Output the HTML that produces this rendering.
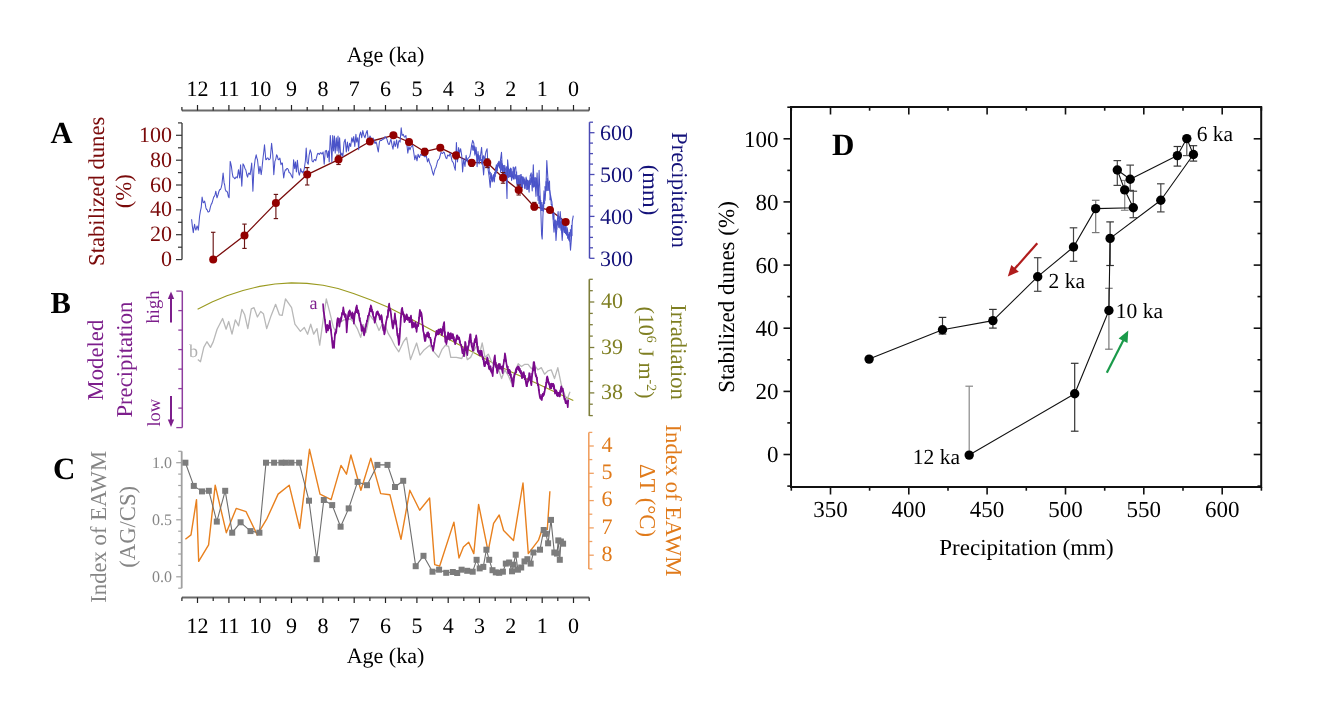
<!DOCTYPE html><html><head><meta charset="utf-8"><style>html,body{margin:0;padding:0;background:#fff;overflow:hidden}svg{display:block;will-change:transform}text{-webkit-font-smoothing:antialiased}</style></head><body>
<svg width="1336" height="725" viewBox="0 0 1336 725" font-family="'Liberation Serif', serif" text-rendering="geometricPrecision">
<rect width="1336" height="725" fill="#fff"/>
<line x1="181.9" y1="110.5" x2="589.2" y2="110.5" stroke="#6a6a6a" stroke-width="1.9"/>
<line x1="589.2" y1="110.5" x2="589.2" y2="107" stroke="#222" stroke-width="1.2"/>
<line x1="573.5" y1="110.5" x2="573.5" y2="105" stroke="#222" stroke-width="1.2"/>
<line x1="557.8" y1="110.5" x2="557.8" y2="107" stroke="#222" stroke-width="1.2"/>
<line x1="542.2" y1="110.5" x2="542.2" y2="105" stroke="#222" stroke-width="1.2"/>
<line x1="526.5" y1="110.5" x2="526.5" y2="107" stroke="#222" stroke-width="1.2"/>
<line x1="510.8" y1="110.5" x2="510.8" y2="105" stroke="#222" stroke-width="1.2"/>
<line x1="495.2" y1="110.5" x2="495.2" y2="107" stroke="#222" stroke-width="1.2"/>
<line x1="479.5" y1="110.5" x2="479.5" y2="105" stroke="#222" stroke-width="1.2"/>
<line x1="463.8" y1="110.5" x2="463.8" y2="107" stroke="#222" stroke-width="1.2"/>
<line x1="448.2" y1="110.5" x2="448.2" y2="105" stroke="#222" stroke-width="1.2"/>
<line x1="432.5" y1="110.5" x2="432.5" y2="107" stroke="#222" stroke-width="1.2"/>
<line x1="416.9" y1="110.5" x2="416.9" y2="105" stroke="#222" stroke-width="1.2"/>
<line x1="401.2" y1="110.5" x2="401.2" y2="107" stroke="#222" stroke-width="1.2"/>
<line x1="385.5" y1="110.5" x2="385.5" y2="105" stroke="#222" stroke-width="1.2"/>
<line x1="369.9" y1="110.5" x2="369.9" y2="107" stroke="#222" stroke-width="1.2"/>
<line x1="354.2" y1="110.5" x2="354.2" y2="105" stroke="#222" stroke-width="1.2"/>
<line x1="338.5" y1="110.5" x2="338.5" y2="107" stroke="#222" stroke-width="1.2"/>
<line x1="322.9" y1="110.5" x2="322.9" y2="105" stroke="#222" stroke-width="1.2"/>
<line x1="307.2" y1="110.5" x2="307.2" y2="107" stroke="#222" stroke-width="1.2"/>
<line x1="291.5" y1="110.5" x2="291.5" y2="105" stroke="#222" stroke-width="1.2"/>
<line x1="275.9" y1="110.5" x2="275.9" y2="107" stroke="#222" stroke-width="1.2"/>
<line x1="260.2" y1="110.5" x2="260.2" y2="105" stroke="#222" stroke-width="1.2"/>
<line x1="244.5" y1="110.5" x2="244.5" y2="107" stroke="#222" stroke-width="1.2"/>
<line x1="228.9" y1="110.5" x2="228.9" y2="105" stroke="#222" stroke-width="1.2"/>
<line x1="213.2" y1="110.5" x2="213.2" y2="107" stroke="#222" stroke-width="1.2"/>
<line x1="197.5" y1="110.5" x2="197.5" y2="105" stroke="#222" stroke-width="1.2"/>
<line x1="181.9" y1="110.5" x2="181.9" y2="107" stroke="#222" stroke-width="1.2"/>
<text x="573.5" y="95.5" font-size="22" fill="#000" text-anchor="middle" font-weight="normal" >0</text>
<text x="542.2" y="95.5" font-size="22" fill="#000" text-anchor="middle" font-weight="normal" >1</text>
<text x="510.8" y="95.5" font-size="22" fill="#000" text-anchor="middle" font-weight="normal" >2</text>
<text x="479.5" y="95.5" font-size="22" fill="#000" text-anchor="middle" font-weight="normal" >3</text>
<text x="448.2" y="95.5" font-size="22" fill="#000" text-anchor="middle" font-weight="normal" >4</text>
<text x="416.9" y="95.5" font-size="22" fill="#000" text-anchor="middle" font-weight="normal" >5</text>
<text x="385.5" y="95.5" font-size="22" fill="#000" text-anchor="middle" font-weight="normal" >6</text>
<text x="354.2" y="95.5" font-size="22" fill="#000" text-anchor="middle" font-weight="normal" >7</text>
<text x="322.9" y="95.5" font-size="22" fill="#000" text-anchor="middle" font-weight="normal" >8</text>
<text x="291.5" y="95.5" font-size="22" fill="#000" text-anchor="middle" font-weight="normal" >9</text>
<text x="260.2" y="95.5" font-size="22" fill="#000" text-anchor="middle" font-weight="normal" >10</text>
<text x="228.9" y="95.5" font-size="22" fill="#000" text-anchor="middle" font-weight="normal" >11</text>
<text x="197.5" y="95.5" font-size="22" fill="#000" text-anchor="middle" font-weight="normal" >12</text>
<text x="385.5" y="62.2" font-size="22" fill="#000" text-anchor="middle" font-weight="normal" >Age (ka)</text>
<line x1="181.9" y1="597.5" x2="589.2" y2="597.5" stroke="#6a6a6a" stroke-width="1.9"/>
<line x1="589.2" y1="597.5" x2="589.2" y2="601" stroke="#222" stroke-width="1.2"/>
<line x1="573.5" y1="597.5" x2="573.5" y2="603" stroke="#222" stroke-width="1.2"/>
<line x1="557.8" y1="597.5" x2="557.8" y2="601" stroke="#222" stroke-width="1.2"/>
<line x1="542.2" y1="597.5" x2="542.2" y2="603" stroke="#222" stroke-width="1.2"/>
<line x1="526.5" y1="597.5" x2="526.5" y2="601" stroke="#222" stroke-width="1.2"/>
<line x1="510.8" y1="597.5" x2="510.8" y2="603" stroke="#222" stroke-width="1.2"/>
<line x1="495.2" y1="597.5" x2="495.2" y2="601" stroke="#222" stroke-width="1.2"/>
<line x1="479.5" y1="597.5" x2="479.5" y2="603" stroke="#222" stroke-width="1.2"/>
<line x1="463.8" y1="597.5" x2="463.8" y2="601" stroke="#222" stroke-width="1.2"/>
<line x1="448.2" y1="597.5" x2="448.2" y2="603" stroke="#222" stroke-width="1.2"/>
<line x1="432.5" y1="597.5" x2="432.5" y2="601" stroke="#222" stroke-width="1.2"/>
<line x1="416.9" y1="597.5" x2="416.9" y2="603" stroke="#222" stroke-width="1.2"/>
<line x1="401.2" y1="597.5" x2="401.2" y2="601" stroke="#222" stroke-width="1.2"/>
<line x1="385.5" y1="597.5" x2="385.5" y2="603" stroke="#222" stroke-width="1.2"/>
<line x1="369.9" y1="597.5" x2="369.9" y2="601" stroke="#222" stroke-width="1.2"/>
<line x1="354.2" y1="597.5" x2="354.2" y2="603" stroke="#222" stroke-width="1.2"/>
<line x1="338.5" y1="597.5" x2="338.5" y2="601" stroke="#222" stroke-width="1.2"/>
<line x1="322.9" y1="597.5" x2="322.9" y2="603" stroke="#222" stroke-width="1.2"/>
<line x1="307.2" y1="597.5" x2="307.2" y2="601" stroke="#222" stroke-width="1.2"/>
<line x1="291.5" y1="597.5" x2="291.5" y2="603" stroke="#222" stroke-width="1.2"/>
<line x1="275.9" y1="597.5" x2="275.9" y2="601" stroke="#222" stroke-width="1.2"/>
<line x1="260.2" y1="597.5" x2="260.2" y2="603" stroke="#222" stroke-width="1.2"/>
<line x1="244.5" y1="597.5" x2="244.5" y2="601" stroke="#222" stroke-width="1.2"/>
<line x1="228.9" y1="597.5" x2="228.9" y2="603" stroke="#222" stroke-width="1.2"/>
<line x1="213.2" y1="597.5" x2="213.2" y2="601" stroke="#222" stroke-width="1.2"/>
<line x1="197.5" y1="597.5" x2="197.5" y2="603" stroke="#222" stroke-width="1.2"/>
<line x1="181.9" y1="597.5" x2="181.9" y2="601" stroke="#222" stroke-width="1.2"/>
<text x="573.5" y="633" font-size="22" fill="#000" text-anchor="middle" font-weight="normal" >0</text>
<text x="542.2" y="633" font-size="22" fill="#000" text-anchor="middle" font-weight="normal" >1</text>
<text x="510.8" y="633" font-size="22" fill="#000" text-anchor="middle" font-weight="normal" >2</text>
<text x="479.5" y="633" font-size="22" fill="#000" text-anchor="middle" font-weight="normal" >3</text>
<text x="448.2" y="633" font-size="22" fill="#000" text-anchor="middle" font-weight="normal" >4</text>
<text x="416.9" y="633" font-size="22" fill="#000" text-anchor="middle" font-weight="normal" >5</text>
<text x="385.5" y="633" font-size="22" fill="#000" text-anchor="middle" font-weight="normal" >6</text>
<text x="354.2" y="633" font-size="22" fill="#000" text-anchor="middle" font-weight="normal" >7</text>
<text x="322.9" y="633" font-size="22" fill="#000" text-anchor="middle" font-weight="normal" >8</text>
<text x="291.5" y="633" font-size="22" fill="#000" text-anchor="middle" font-weight="normal" >9</text>
<text x="260.2" y="633" font-size="22" fill="#000" text-anchor="middle" font-weight="normal" >10</text>
<text x="228.9" y="633" font-size="22" fill="#000" text-anchor="middle" font-weight="normal" >11</text>
<text x="197.5" y="633" font-size="22" fill="#000" text-anchor="middle" font-weight="normal" >12</text>
<text x="385.5" y="662.5" font-size="22" fill="#000" text-anchor="middle" font-weight="normal" >Age (ka)</text>
<line x1="182" y1="122.9" x2="182" y2="259.6" stroke="#333" stroke-width="1.3"/>
<line x1="182" y1="259.6" x2="176" y2="259.6" stroke="#333" stroke-width="1.2"/>
<line x1="182" y1="247.2" x2="178" y2="247.2" stroke="#333" stroke-width="1.2"/>
<line x1="182" y1="234.7" x2="176" y2="234.7" stroke="#333" stroke-width="1.2"/>
<line x1="182" y1="222.3" x2="178" y2="222.3" stroke="#333" stroke-width="1.2"/>
<line x1="182" y1="209.9" x2="176" y2="209.9" stroke="#333" stroke-width="1.2"/>
<line x1="182" y1="197.5" x2="178" y2="197.5" stroke="#333" stroke-width="1.2"/>
<line x1="182" y1="185" x2="176" y2="185" stroke="#333" stroke-width="1.2"/>
<line x1="182" y1="172.6" x2="178" y2="172.6" stroke="#333" stroke-width="1.2"/>
<line x1="182" y1="160.2" x2="176" y2="160.2" stroke="#333" stroke-width="1.2"/>
<line x1="182" y1="147.8" x2="178" y2="147.8" stroke="#333" stroke-width="1.2"/>
<line x1="182" y1="135.3" x2="176" y2="135.3" stroke="#333" stroke-width="1.2"/>
<line x1="182" y1="122.9" x2="178" y2="122.9" stroke="#333" stroke-width="1.2"/>
<text x="172" y="266.1" font-size="22" fill="#7a0a0a" text-anchor="end" font-weight="normal" >0</text>
<text x="172" y="241.2" font-size="22" fill="#7a0a0a" text-anchor="end" font-weight="normal" >20</text>
<text x="172" y="216.4" font-size="22" fill="#7a0a0a" text-anchor="end" font-weight="normal" >40</text>
<text x="172" y="191.5" font-size="22" fill="#7a0a0a" text-anchor="end" font-weight="normal" >60</text>
<text x="172" y="166.7" font-size="22" fill="#7a0a0a" text-anchor="end" font-weight="normal" >80</text>
<text x="172" y="141.8" font-size="22" fill="#7a0a0a" text-anchor="end" font-weight="normal" >100</text>
<text x="50.6" y="142.6" font-size="30.5" fill="#000" text-anchor="start" font-weight="bold" >A</text>
<text transform="translate(103.5 191.3) rotate(-90)" font-size="22.7" fill="#7a0a0a" text-anchor="middle" >Stabilized dunes</text>
<text transform="translate(131 191.3) rotate(-90)" font-size="22.7" fill="#7a0a0a" text-anchor="middle" >(%)</text>
<line x1="589.5" y1="122.2" x2="589.5" y2="258.3" stroke="#4a4ab4" stroke-width="1.5"/>
<line x1="589.5" y1="258.3" x2="594.5" y2="258.3" stroke="#4a4ab4" stroke-width="1.3"/>
<line x1="589.5" y1="247.8" x2="593" y2="247.8" stroke="#4a4ab4" stroke-width="1.3"/>
<line x1="589.5" y1="237.4" x2="593" y2="237.4" stroke="#4a4ab4" stroke-width="1.3"/>
<line x1="589.5" y1="226.9" x2="593" y2="226.9" stroke="#4a4ab4" stroke-width="1.3"/>
<line x1="589.5" y1="216.4" x2="594.5" y2="216.4" stroke="#4a4ab4" stroke-width="1.3"/>
<line x1="589.5" y1="206" x2="593" y2="206" stroke="#4a4ab4" stroke-width="1.3"/>
<line x1="589.5" y1="195.5" x2="593" y2="195.5" stroke="#4a4ab4" stroke-width="1.3"/>
<line x1="589.5" y1="185" x2="593" y2="185" stroke="#4a4ab4" stroke-width="1.3"/>
<line x1="589.5" y1="174.5" x2="594.5" y2="174.5" stroke="#4a4ab4" stroke-width="1.3"/>
<line x1="589.5" y1="164.1" x2="593" y2="164.1" stroke="#4a4ab4" stroke-width="1.3"/>
<line x1="589.5" y1="153.6" x2="593" y2="153.6" stroke="#4a4ab4" stroke-width="1.3"/>
<line x1="589.5" y1="143.1" x2="593" y2="143.1" stroke="#4a4ab4" stroke-width="1.3"/>
<line x1="589.5" y1="132.7" x2="594.5" y2="132.7" stroke="#4a4ab4" stroke-width="1.3"/>
<line x1="589.5" y1="122.2" x2="593" y2="122.2" stroke="#4a4ab4" stroke-width="1.3"/>
<text x="600" y="266" font-size="22" fill="#14127a" text-anchor="start" font-weight="normal" >300</text>
<text x="600" y="224.1" font-size="22" fill="#14127a" text-anchor="start" font-weight="normal" >400</text>
<text x="600" y="182.2" font-size="22" fill="#14127a" text-anchor="start" font-weight="normal" >500</text>
<text x="600" y="140.4" font-size="22" fill="#14127a" text-anchor="start" font-weight="normal" >600</text>
<text transform="translate(672.2 190) rotate(90)" font-size="22.7" fill="#14127a" text-anchor="middle" >Precipitation</text>
<text transform="translate(643 190) rotate(90)" font-size="22.7" fill="#14127a" text-anchor="middle" >(mm)</text>
<polyline points="213.2,259.6 244.5,235.4 275.9,203.1 307.2,174.6 338.5,159.6 369.9,141.5 393.4,135.3 409,142 424.7,151.7 440.3,147.8 456,155.3 471.7,162.7 487.3,162.7 503,177.8 518.7,189.9 534.3,206.7 550,210.1 565.7,222.1" fill="none" stroke="#7a0c0c" stroke-width="1.3" stroke-linejoin="round" />
<polyline points="191.6,219.3 192.4,226.6 193.3,232.6 193.9,228 194.6,224.3 195.2,228.1 195.9,230.1 197.1,226 197.7,227.6 198.3,230.1 198.9,223.9 199.6,216 200.4,211.2 201.2,207.7 202.1,197 203.2,202.8 203.9,202.4 204.6,201.1 205.2,203.6 205.9,207.7 206.6,209.5 207.2,209.8 207.9,211.9 208.7,211.9 209.5,211.1 210.3,207.3 211.2,204.4 212,203.1 212.8,200.3 213.7,197.2 214.5,196.2 215.2,194.2 215.8,191.2 217,197.8 218.1,194.5 218.9,191.5 219.8,189.5 220.4,189.6 221.1,187.9 221.9,184.6 223.1,173 224.1,182.9 224.7,185 225.3,189.5 226.1,191.2 226.9,191.2 227.6,192.7 228.4,196.8 229.1,197.8 230.2,161.4 230.8,163.5 231.4,166.4 232.2,172.8 233,177.1 233.8,177.3 234.7,178.8 235.3,178.4 236,177.1 236.7,177 237.3,177.9 238.5,169.7 239.7,177.9 240.6,164.7 241.2,176.1 241.8,186.2 243,163.9 244,165.5 245.1,168.8 245.7,169.5 246.3,172.2 246.9,175.2 247.6,177.1 248.2,174.2 248.9,173 250.1,174.6 250.9,169.7 251.7,163.1 252.3,176.5 252.9,191.2 253.9,169.7 255.1,159.7 256.2,154.8 256.9,158.1 257.5,159.7 258.2,166.3 258.9,173.8 260,166.4 261.2,174.6 261.9,169.3 262.5,163.1 263.2,156.5 263.8,151.8 264.5,144.8 265.1,151.5 265.8,159.7 266.5,159.5 267.1,158.1 268,158 268.8,159.7 269.6,159.6 270.3,158.1 271,150 271.6,143.2 272.8,154.8 273.8,174.6 274.9,161.4 275.8,159.1 276.6,154.8 277.4,156.3 278.2,159.7 279,159.5 279.9,158.1 281,164.7 281.7,163.1 282.4,163.1 283,171.3 283.7,177.9 284.5,172.7 285.4,169.7 286,170.1 286.7,168.6 287.5,168.5 288.3,169.7 289.1,172.5 290,173 290.8,174.2 291.6,176.3 292.7,177.9 293.6,159.7 294.7,168.6 295.5,161.9 296.4,171.9 297.4,160.3 298.5,171.9 299.3,175.2 300,172.6 300.7,168.6 301.6,171.9 302.2,171.5 302.9,173 303.6,171.3 304.3,168.6 305.4,160.8 306.2,148.1 307.1,161.9 308.2,164.2 309.1,155.3 310.2,149.8 311.3,153.1 312,160.8 313.1,161.9 314.2,159.7 314.9,159.5 315.7,160.8 316.4,158.2 317.2,154.8 317.9,153.3 318.7,153.7 319.4,154.4 320.1,153.1 320.8,152.6 321.4,153.7 322.2,153.9 323.1,152 324.2,164.2 325.3,150.9 326.4,150.4 327.5,157.5 328.4,150.9 329.2,161.9 330.3,135.5 331.1,145.4 331.9,161.9 332.7,135.5 333.6,150.9 334.4,136 335.2,153.1 336.3,137.7 337.1,150.9 338,136 338.9,153.1 339.6,137.7 340.7,156.4 341.8,153.1 342.9,156.4 343.5,148.6 344.1,142.1 345.2,139.3 346.3,152 347.4,142.1 348.5,150.9 349.6,143.2 350.7,146.5 351.8,137.7 352.9,142.1 353.7,136.6 354.8,146.5 355.9,134.3 356.7,142.1 357.8,137.7 358.7,149.8 359.5,135.5 360.6,132.1 361.7,137.7 362.8,130.5 363.9,135.5 365,137.7 366.1,133.2 367.2,130.5 368.3,139.9 369.1,138.9 370,136 370.8,137.6 371.5,141 372.2,140.3 373,138 373.7,139.3 374.4,142.1 375.1,143.5 375.9,141.7 376.6,143.2 377.5,148.4 378.3,152 379.4,142.1 380.2,140.3 381,140.4 381.8,140.4 382.5,138.7 383.3,139.3 384.1,138.9 385,136.6 386.1,138.2 386.9,139 387.7,142.1 388.5,144.3 389.4,144.3 390.2,141.2 391,139.3 392.1,145.4 393,149.2 394.1,141 395.2,146.5 395.9,143.9 396.6,139.9 397.7,148.1 398.8,141 399.5,140.6 400.1,142.1 401.2,127.7 402.1,135.5 403.2,134.3 404.3,137.1 405.1,136.7 405.9,135.5 407,145.4 407.8,153.1 408.9,146.5 410,149.8 410.8,147.4 411.5,146.5 412.6,145.4 413.7,152 414.8,159.7 415.9,155.3 417,160.8 418.1,154.2 418.8,156.4 419.5,157.5 420.1,155.4 420.8,154.2 421.6,155.2 422.5,155.3 423.4,154.8 424.2,156.4 424.9,156.9 425.7,155.8 426.4,156.4 427.5,161.9 428.6,158.6 429.4,162.1 430.2,164.2 431,165.9 431.9,169.7 432.7,172.9 433.5,175.2 434.4,171.2 435.2,168.6 436,167.2 436.8,164.2 437.6,160.8 438.5,159.7 439.4,158.5 440.2,155.3 441,152.4 441.8,153.1 442.6,153.5 443.5,152 444.3,152.5 445.1,155.3 446,158.1 446.8,158.6 447.6,155.1 448.4,155.3 449.2,156.1 450.1,153.1 450.8,155 451.5,158.6 452.1,161.1 452.8,161.9 453.5,163.2 454.2,166.4 455.3,170.2 456.4,142.6 457.5,161.9 458.6,147.6 459.5,153.1 460.6,148.7 461.7,155.3 462.6,171.9 463.7,158.6 464.4,163.4 465,166.4 466.1,155.3 467.2,161.9 468,158.4 468.9,157.5 469.7,156.7 470.5,153.1 471.6,145.4 472.7,140.4 473.8,143.2 474.9,155.3 475.5,150.4 476.1,147.4 477.1,166.7 478,151.6 479.1,164 479.8,160.5 480.5,155.7 481.6,147.4 482.6,162.6 483.6,175 484.7,159.8 485.4,154.5 486,151.6 487.1,148.8 488.1,169.5 489.1,176.4 490.2,187.4 491.3,173.6 492.2,181.9 493.2,175 494.3,181.9 495.4,170.9 496.4,164.7 497.3,168.1 498.4,162.6 499,166.5 499.6,168.1 500.5,159.8 501.5,152.2 502.6,173.6 503.7,181.9 504.7,165.3 505.6,169.5 506.4,181.9 507,198.4 507.6,159.8 508.4,168.1 509.5,173.6 510.6,168.1 511.6,180.5 512.5,175 513.6,179.1 514.7,168.1 515.7,166.7 516.7,181.9 517.8,186 518.9,179.1 519.8,188.8 520.8,177.8 521.9,176.4 523,183.3 524,177.8 525,188.8 526.1,177.1 527.1,189.5 528,182.6 529.1,192.2 530.2,175.7 531.2,172.9 532.2,190.9 533.3,164.7 534.1,186.7 534.9,181.2 536,196.4 537.1,172.9 538.1,200.5 539.1,170.2 539.9,190.9 540.9,212.9 541.6,235 542.2,239.1 542.9,217.1 544,190.9 545,200.5 546,186.7 546.8,160.5 547.8,177.1 548.7,186.7 549.8,190.9 550.9,197.8 551.9,201.9 552.9,215.7 554,232.2 555.1,219.8 556,240.5 557,225.3 558.1,211.6 559.2,226.7 560.2,211.6 561.1,222.6 562.2,240.5 563.3,224 564.3,232.2 565.3,226.7 566.4,235 567.5,229.5 568.4,237.8 569.4,233.6 570.5,250.2 571.5,237.8 572.3,221.2 573.3,215.7" fill="none" stroke="#4a52c8" stroke-width="1.05" stroke-linejoin="round" />
<polyline points="472,150.2 472.6,145.4 473.1,150.5 473.7,145.6 474.2,150.6 474.8,146.5 475.3,154 475.9,149.8 476.4,156.5 477,153.9 477.5,157.2 478.1,154.5 478.6,158.7 479.2,155.4 479.7,161 480.3,157 480.8,160.8 481.4,159.2 481.9,164.4 482.5,156.6 483,162.6 483.6,155.5 484.1,158.7 484.7,156.7 485.2,162.7 485.8,160.6 486.3,166.7 486.9,161.9 487.4,166.3 488,162.9 488.5,168.9 489.1,166.1 489.6,174.5 490.2,171.9 490.7,178.7 491.3,176.1 491.8,180.3 492.4,177.8 492.9,181.3 493.5,174.5 494,177.9 494.6,172.3 495.1,176.7 495.7,167.7 496.2,173.5 496.8,166.4 497.3,170.9 497.9,162.9 498.4,165.3 499,160.9 499.5,167 500.1,162.1 500.6,172.4 501.2,160.2 501.7,170.5 502.3,163.6 502.8,171.4 503.4,165.2 503.9,178.5 504.5,169.3 505,175.5 505.6,172.3 506.1,179.2 506.7,166.5 507.2,176.7 507.8,168.2 508.3,177.8 508.9,168.8 509.4,177.2 510,169.4 510.5,177.1 511.1,168.5 511.6,176.2 512.2,171.3 512.7,176.5 513.3,166.8 513.8,177.8 514.4,170.8 514.9,179.3 515.5,174.5 516,178.7 516.6,171.7 517.1,184.1 517.7,175.3 518.2,184.8 518.8,175.2 519.3,187.7 519.9,174.9 520.4,185.2 521,174.1 521.5,187.7 522,176.8 522.6,188 523.1,176.7 523.7,184.3 524.2,178.9 524.8,188.5 525.3,180.7 525.9,185.7 526.4,178.4 527,189.9 527.5,179.8 528.1,189.1 528.6,180.6 529.2,185.9 529.7,179.9 530.3,184.9 530.8,178.2 531.4,182.5 531.9,177.1 532.5,186.8 533,174.3 533.6,187.4 534.1,177.6 534.7,185.8 535.2,177.3 535.8,187.5 536.3,177.8 536.9,186.8 537.4,184.4 538,195.8 538.5,188 539.1,204.1 539.6,195.8 540.2,206.9 540.7,200.1 541.3,211 541.8,202.1 542.4,211.1 542.9,204.5 543.5,211.4 544,200.9 544.6,203.9 545.1,186.3 545.7,191.4 546.2,181.3 546.8,190.8 547.3,178.1 547.9,190.8 548.4,182.4 549,190.6 549.5,180.8 550.1,200.2 550.6,195.5 551.2,204.8 551.7,204 552.3,211.1 552.8,208.9 553.4,219.6 553.9,212.7 554.5,227.5 555,220.2 555.6,228.6 556.1,221.1 556.7,229.6 557.2,220.5 557.8,225.3 558.3,220.2 558.9,227.8 559.4,217.5 560,228.4 560.5,221.4 561.1,230.5 561.6,218.8 562.2,233.2 562.7,220.3 563.3,229.9 563.8,225.4 564.4,232.9 564.9,224.8 565.5,234 566,225.1 566.6,235.3 567.1,227.5 567.7,238.6 568.2,234.1 568.8,240.4 569.3,232 569.9,241.6 570.4,229.4 571,236.6 571.5,225 572.1,235.9" fill="none" stroke="#4a52c8" stroke-width="0.9" stroke-linejoin="round" />
<line x1="213.2" y1="259.6" x2="213.2" y2="232.3" stroke="#6b1515" stroke-width="1.15"/>
<line x1="211" y1="259.6" x2="215.4" y2="259.6" stroke="#6b1515" stroke-width="1.15"/>
<line x1="211" y1="232.3" x2="215.4" y2="232.3" stroke="#6b1515" stroke-width="1.15"/>
<line x1="244.5" y1="248.4" x2="244.5" y2="224.1" stroke="#6b1515" stroke-width="1.15"/>
<line x1="242.3" y1="248.4" x2="246.7" y2="248.4" stroke="#6b1515" stroke-width="1.15"/>
<line x1="242.3" y1="224.1" x2="246.7" y2="224.1" stroke="#6b1515" stroke-width="1.15"/>
<line x1="275.9" y1="218.6" x2="275.9" y2="194.4" stroke="#6b1515" stroke-width="1.15"/>
<line x1="273.7" y1="218.6" x2="278.1" y2="218.6" stroke="#6b1515" stroke-width="1.15"/>
<line x1="273.7" y1="194.4" x2="278.1" y2="194.4" stroke="#6b1515" stroke-width="1.15"/>
<line x1="307.2" y1="185" x2="307.2" y2="167.6" stroke="#6b1515" stroke-width="1.15"/>
<line x1="305" y1="185" x2="309.4" y2="185" stroke="#6b1515" stroke-width="1.15"/>
<line x1="305" y1="167.6" x2="309.4" y2="167.6" stroke="#6b1515" stroke-width="1.15"/>
<line x1="338.5" y1="164.5" x2="338.5" y2="155.2" stroke="#6b1515" stroke-width="1.15"/>
<line x1="336.3" y1="164.5" x2="340.7" y2="164.5" stroke="#6b1515" stroke-width="1.15"/>
<line x1="336.3" y1="155.2" x2="340.7" y2="155.2" stroke="#6b1515" stroke-width="1.15"/>
<line x1="369.9" y1="144" x2="369.9" y2="139.1" stroke="#6b1515" stroke-width="1.15"/>
<line x1="367.7" y1="144" x2="372.1" y2="144" stroke="#6b1515" stroke-width="1.15"/>
<line x1="367.7" y1="139.1" x2="372.1" y2="139.1" stroke="#6b1515" stroke-width="1.15"/>
<line x1="393.4" y1="136.6" x2="393.4" y2="133.5" stroke="#6b1515" stroke-width="1.15"/>
<line x1="391.2" y1="136.6" x2="395.6" y2="136.6" stroke="#6b1515" stroke-width="1.15"/>
<line x1="391.2" y1="133.5" x2="395.6" y2="133.5" stroke="#6b1515" stroke-width="1.15"/>
<line x1="409" y1="144.7" x2="409" y2="139.7" stroke="#6b1515" stroke-width="1.15"/>
<line x1="406.8" y1="144.7" x2="411.2" y2="144.7" stroke="#6b1515" stroke-width="1.15"/>
<line x1="406.8" y1="139.7" x2="411.2" y2="139.7" stroke="#6b1515" stroke-width="1.15"/>
<line x1="424.7" y1="155.2" x2="424.7" y2="148.4" stroke="#6b1515" stroke-width="1.15"/>
<line x1="422.5" y1="155.2" x2="426.9" y2="155.2" stroke="#6b1515" stroke-width="1.15"/>
<line x1="422.5" y1="148.4" x2="426.9" y2="148.4" stroke="#6b1515" stroke-width="1.15"/>
<line x1="440.3" y1="150.2" x2="440.3" y2="145.3" stroke="#6b1515" stroke-width="1.15"/>
<line x1="438.1" y1="150.2" x2="442.5" y2="150.2" stroke="#6b1515" stroke-width="1.15"/>
<line x1="438.1" y1="145.3" x2="442.5" y2="145.3" stroke="#6b1515" stroke-width="1.15"/>
<line x1="456" y1="158.9" x2="456" y2="152.7" stroke="#6b1515" stroke-width="1.15"/>
<line x1="453.8" y1="158.9" x2="458.2" y2="158.9" stroke="#6b1515" stroke-width="1.15"/>
<line x1="453.8" y1="152.7" x2="458.2" y2="152.7" stroke="#6b1515" stroke-width="1.15"/>
<line x1="471.7" y1="166.4" x2="471.7" y2="160.2" stroke="#6b1515" stroke-width="1.15"/>
<line x1="469.5" y1="166.4" x2="473.9" y2="166.4" stroke="#6b1515" stroke-width="1.15"/>
<line x1="469.5" y1="160.2" x2="473.9" y2="160.2" stroke="#6b1515" stroke-width="1.15"/>
<line x1="487.3" y1="167.6" x2="487.3" y2="158.9" stroke="#6b1515" stroke-width="1.15"/>
<line x1="485.1" y1="167.6" x2="489.5" y2="167.6" stroke="#6b1515" stroke-width="1.15"/>
<line x1="485.1" y1="158.9" x2="489.5" y2="158.9" stroke="#6b1515" stroke-width="1.15"/>
<line x1="503" y1="183.2" x2="503" y2="172.6" stroke="#6b1515" stroke-width="1.15"/>
<line x1="500.8" y1="183.2" x2="505.2" y2="183.2" stroke="#6b1515" stroke-width="1.15"/>
<line x1="500.8" y1="172.6" x2="505.2" y2="172.6" stroke="#6b1515" stroke-width="1.15"/>
<line x1="518.7" y1="195" x2="518.7" y2="185" stroke="#6b1515" stroke-width="1.15"/>
<line x1="516.5" y1="195" x2="520.9" y2="195" stroke="#6b1515" stroke-width="1.15"/>
<line x1="516.5" y1="185" x2="520.9" y2="185" stroke="#6b1515" stroke-width="1.15"/>
<line x1="534.3" y1="209.9" x2="534.3" y2="202.4" stroke="#6b1515" stroke-width="1.15"/>
<line x1="532.1" y1="209.9" x2="536.5" y2="209.9" stroke="#6b1515" stroke-width="1.15"/>
<line x1="532.1" y1="202.4" x2="536.5" y2="202.4" stroke="#6b1515" stroke-width="1.15"/>
<line x1="550" y1="212.4" x2="550" y2="208" stroke="#6b1515" stroke-width="1.15"/>
<line x1="547.8" y1="212.4" x2="552.2" y2="212.4" stroke="#6b1515" stroke-width="1.15"/>
<line x1="547.8" y1="208" x2="552.2" y2="208" stroke="#6b1515" stroke-width="1.15"/>
<line x1="565.7" y1="224.2" x2="565.7" y2="220.5" stroke="#6b1515" stroke-width="1.15"/>
<line x1="563.5" y1="224.2" x2="567.9" y2="224.2" stroke="#6b1515" stroke-width="1.15"/>
<line x1="563.5" y1="220.5" x2="567.9" y2="220.5" stroke="#6b1515" stroke-width="1.15"/>
<circle cx="213.2" cy="259.6" r="4" fill="#930000"/>
<circle cx="244.5" cy="235.4" r="4" fill="#930000"/>
<circle cx="275.9" cy="203.1" r="4" fill="#930000"/>
<circle cx="307.2" cy="174.6" r="4" fill="#930000"/>
<circle cx="338.5" cy="159.6" r="4" fill="#930000"/>
<circle cx="369.9" cy="141.5" r="4" fill="#930000"/>
<circle cx="393.4" cy="135.3" r="4" fill="#930000"/>
<circle cx="409" cy="142" r="4" fill="#930000"/>
<circle cx="424.7" cy="151.7" r="4" fill="#930000"/>
<circle cx="440.3" cy="147.8" r="4" fill="#930000"/>
<circle cx="456" cy="155.3" r="4" fill="#930000"/>
<circle cx="471.7" cy="162.7" r="4" fill="#930000"/>
<circle cx="487.3" cy="162.7" r="4" fill="#930000"/>
<circle cx="503" cy="177.8" r="4" fill="#930000"/>
<circle cx="518.7" cy="189.9" r="4" fill="#930000"/>
<circle cx="534.3" cy="206.7" r="4" fill="#930000"/>
<circle cx="550" cy="210.1" r="4" fill="#930000"/>
<circle cx="565.7" cy="222.1" r="4" fill="#930000"/>
<line x1="182.3" y1="291.1" x2="182.3" y2="427.6" stroke="#8e3c9e" stroke-width="1.5"/>
<line x1="182.3" y1="291.1" x2="176.3" y2="291.1" stroke="#8e3c9e" stroke-width="1.3"/>
<line x1="182.3" y1="310.6" x2="178.3" y2="310.6" stroke="#8e3c9e" stroke-width="1.3"/>
<line x1="182.3" y1="330.1" x2="178.3" y2="330.1" stroke="#8e3c9e" stroke-width="1.3"/>
<line x1="182.3" y1="349.6" x2="178.3" y2="349.6" stroke="#8e3c9e" stroke-width="1.3"/>
<line x1="182.3" y1="369.1" x2="178.3" y2="369.1" stroke="#8e3c9e" stroke-width="1.3"/>
<line x1="182.3" y1="388.6" x2="178.3" y2="388.6" stroke="#8e3c9e" stroke-width="1.3"/>
<line x1="182.3" y1="408.1" x2="178.3" y2="408.1" stroke="#8e3c9e" stroke-width="1.3"/>
<line x1="182.3" y1="427.6" x2="176.3" y2="427.6" stroke="#8e3c9e" stroke-width="1.3"/>
<text x="50.5" y="313.4" font-size="30.5" fill="#000" text-anchor="start" font-weight="bold" >B</text>
<text transform="translate(103.3 360.1) rotate(-90)" font-size="22.7" fill="#7d1f8c" text-anchor="middle" >Modeled</text>
<text transform="translate(131.8 359.6) rotate(-90)" font-size="22.7" fill="#7d1f8c" text-anchor="middle" >Precipitation</text>
<text transform="translate(159.4 307) rotate(-90)" font-size="18.5" fill="#7d1f8c" text-anchor="middle" >high</text>
<text transform="translate(159.8 412.7) rotate(-90)" font-size="18.5" fill="#7d1f8c" text-anchor="middle" >low</text>
<line x1="171" y1="298" x2="171" y2="322.5" stroke="#7d1f8c" stroke-width="2"/>
<path d="M171,291.5 L167.8,299 L174.2,299 Z" fill="#7d1f8c"/>
<line x1="171" y1="396" x2="171" y2="420" stroke="#7d1f8c" stroke-width="2"/>
<path d="M171,427 L167.8,419.5 L174.2,419.5 Z" fill="#7d1f8c"/>
<line x1="589.3" y1="279.3" x2="589.3" y2="416" stroke="#7d7d3a" stroke-width="1.6"/>
<line x1="589.3" y1="279.3" x2="592.8" y2="279.3" stroke="#7d7d3a" stroke-width="1.3"/>
<line x1="589.3" y1="290.7" x2="592.8" y2="290.7" stroke="#7d7d3a" stroke-width="1.3"/>
<line x1="589.3" y1="302" x2="594.3" y2="302" stroke="#7d7d3a" stroke-width="1.3"/>
<line x1="589.3" y1="313.4" x2="592.8" y2="313.4" stroke="#7d7d3a" stroke-width="1.3"/>
<line x1="589.3" y1="324.7" x2="592.8" y2="324.7" stroke="#7d7d3a" stroke-width="1.3"/>
<line x1="589.3" y1="336.1" x2="592.8" y2="336.1" stroke="#7d7d3a" stroke-width="1.3"/>
<line x1="589.3" y1="347.5" x2="594.3" y2="347.5" stroke="#7d7d3a" stroke-width="1.3"/>
<line x1="589.3" y1="358.8" x2="592.8" y2="358.8" stroke="#7d7d3a" stroke-width="1.3"/>
<line x1="589.3" y1="370.2" x2="592.8" y2="370.2" stroke="#7d7d3a" stroke-width="1.3"/>
<line x1="589.3" y1="381.5" x2="592.8" y2="381.5" stroke="#7d7d3a" stroke-width="1.3"/>
<line x1="589.3" y1="392.9" x2="594.3" y2="392.9" stroke="#7d7d3a" stroke-width="1.3"/>
<line x1="589.3" y1="404.2" x2="592.8" y2="404.2" stroke="#7d7d3a" stroke-width="1.3"/>
<line x1="589.3" y1="415.6" x2="592.8" y2="415.6" stroke="#7d7d3a" stroke-width="1.3"/>
<text x="601" y="308.2" font-size="22" fill="#7f7f22" text-anchor="start" font-weight="normal" >40</text>
<text x="601" y="353.6" font-size="22" fill="#7f7f22" text-anchor="start" font-weight="normal" >39</text>
<text x="601" y="399" font-size="22" fill="#7f7f22" text-anchor="start" font-weight="normal" >38</text>
<text transform="translate(671 352) rotate(90)" font-size="22.7" fill="#7f7f22" text-anchor="middle" >Irradiation</text>
<text transform="translate(639 352.5) rotate(90)" font-size="22" fill="#7f7f22" text-anchor="middle">(10<tspan font-size="14" dy="-8">6</tspan><tspan dy="8"> J m</tspan><tspan font-size="14" dy="-8">-2</tspan><tspan dy="8">)</tspan></text>
<polyline points="197.6,309.2 212,302 226.9,295.8 243,290.5 259.7,286.4 275,284 291.4,282.9 307,283.4 323.1,285.2 338,288.5 353.5,293.5 371,300 388.7,307.5 400,313.2 420,323.8 440,334.5 460,345.2 480,356 499.3,366.2 518,375 537,383.6 555,392 573.3,400.6" fill="none" stroke="#9a9a20" stroke-width="1.1" stroke-linejoin="round" />
<polyline points="197.8,359.5 200.5,361.7 203.8,347.4 206.9,341.7 210.5,347.4 213.2,341.9 217.1,329.2 222.6,318.5 226.1,329.2 228.7,321.5 232,334.2 235.3,319.8 238.6,325.9 241.9,309.3 244.7,314.8 247.8,328.6 251.3,308.8 254,307.7 257.4,317 260.7,311.5 263.4,313.7 266.7,328.6 271.2,315.4 275.6,304.3 279.4,314.8 282.2,315.4 285.5,298.8 291.6,307.7 294.9,324.2 300.4,331.4 304.3,327.5 307.6,334.2 310.7,324.2 313.7,334.2 317,328.6 319.7,345.2 323,320.9 326.3,298.8 329.7,312.1 333.2,326.7 335.1,330.5 338,325.7 340.9,321.9 343.8,319.9 346.7,319.9 350.5,319 353.4,321.9 357.3,328.6 360.7,337.3 363.6,324.7 366,332.5 369.8,315.1 372.7,319 375.6,321.9 379,330.5 382.4,323.8 385.3,325.7 388.2,333.4 391.1,338.3 394.9,346 398.8,351.8 403.3,341.9 406.6,337.5 410.5,359.6 416.6,343 419.9,355.2 424.3,349.7 429.8,345.3 433.1,350.8 438.6,357.4 441.9,349.7 445.3,345.3 448.6,346.4 450.8,357.4 456.3,357.4 461.8,358.5 465.1,350.8 467.3,359.6 470.6,357.4 473.9,350.8 477.3,344.2 479.5,354.1 482.2,343 485,357.4 488.3,354.1 491.6,361.8 494.9,366.2 498.3,368.7 501.6,378.6 504.9,369.8 508.2,375.3 511.5,383 514.8,372 518.2,363.7 521.5,366.5 524.8,364.3 528.1,364.3 531.4,368.7 534.7,365.4 538,369.8 541.3,367.6 544.6,374.2 547.9,370.9 551.2,369.8 554.5,378.6 557.8,367.6 561.2,384.1 564.5,394 566.7,400.6 570,391.8" fill="none" stroke="#b8b8b8" stroke-width="1.3" stroke-linejoin="round" />
<text x="189" y="356.5" font-size="18" fill="#b0b0b0" text-anchor="start" font-weight="normal" >b</text>
<polyline points="323,303.5 323.5,311.2 324.3,315.1 325,320.9 325.6,326.7 326.4,332.5 327.2,324.7 328,330.5 328.8,326.7 329.3,325.3 329.8,320.9 330.5,326.7 331.2,332.5 332,340.2 332.7,347.9 333.4,344.1 334.1,347.9 334.9,333.4 335.4,331.7 335.9,333.4 336.4,331.3 336.8,324.7 337.3,319.8 337.8,318 338.3,320.1 338.8,319 339.4,326.7 339.9,322.6 340.4,321.9 340.9,321 341.4,318 341.9,314 342.3,313.2 342.8,312.1 343.3,307.4 344,312.2 344.9,317 345.4,314 345.9,315.1 346.7,332.5 347.1,327.1 347.6,319.9 348.1,314.8 348.6,312.2 349.1,312.1 349.6,310.3 350.5,314.1 351,314 351.5,318 352.3,312.2 353.2,316.1 353.9,323.8 354.6,315.1 355.4,312.2 356.1,307.4 356.8,305.4 357.5,312.2 358.3,310.3 359.2,317 359.7,320.8 360.2,320.9 360.7,323 361.2,326.7 361.6,331 362.1,330.5 362.6,326.7 363.1,327.6 363.6,333.3 364.1,335.4 365,331.5 365.5,327.3 366,326.7 366.9,320.9 367.4,319.9 367.9,317 368.5,315.3 369.1,315.1 369.8,309.3 370.3,309 370.8,305.4 371.3,306.5 371.8,309.3 372.7,313.2 373.2,316.1 373.7,317 374.2,318.8 374.7,322.8 375.1,321.7 375.6,319 376.1,314.1 376.6,312.2 377.1,313.2 377.6,311.2 378.5,315.1 379,313.9 379.5,317 380,319.6 380.5,319 381.4,315.1 381.9,317.2 382.4,322.8 382.9,328.2 383.4,330.5 383.9,330.6 384.3,334.4 384.8,333 385.3,328.6 385.8,323.6 386.3,320.9 387.2,317 387.7,317.5 388.2,313.2 388.7,306 389.2,303.5 389.6,308.5 390.1,309.3 390.6,310.3 391.1,315.1 392,322.8 392.5,326.9 393,328.6 393.5,325.1 394,323.8 394.9,313.2 395.4,318.3 395.9,320.9 396.4,324.9 396.9,330.5 397.4,335.4 397.8,336.3 398.3,339.3 398.8,345 399.3,342.8 399.8,336.3 400.7,319 401.1,314.3 401.6,309.6 402.2,307.7 402.8,312.8 403.3,313.2 403.9,315.5 404.4,322.1 404.9,321.2 405.5,318.8 406.1,315.5 406.6,314.3 407.1,319.3 407.7,319.9 408.2,317.3 408.8,317.7 409.4,322.3 409.9,322.1 410.4,317.4 411,315.5 411.6,322.4 412.1,327.6 412.6,323.6 413.2,323.2 413.8,326.9 414.3,326.5 414.9,323.1 415.5,322.1 416.1,327.9 416.6,332 417.1,327.4 417.7,325.4 418.2,326.1 418.8,322.1 419.4,314 419.9,309.9 420.4,311.9 421,312.1 421.6,313.8 422.1,317.7 422.6,325.2 423.2,330.9 423.8,333.4 424.3,337.5 424.9,341.2 425.4,340.8 425.9,337 426.5,335.3 427.1,335.9 427.6,333.1 428.1,332.2 428.7,334.2 429.2,336.9 429.8,337.5 430.4,337.8 430.9,341.9 431.4,345.1 432,346.4 432.6,346.8 433.1,350.8 433.6,348.4 434.2,344.2 434.8,339.4 435.3,337.5 435.9,335.3 436.4,330.9 436.9,331.4 437.5,334.2 438.1,334.4 438.6,329.8 439.1,329.4 439.7,333.1 440.2,332.1 440.8,328.7 441.4,329.8 441.9,335.3 442.4,333.1 443,328.7 443.6,324 444.2,322.1 444.8,334.2 445.3,341.9 445.9,341.3 446.4,344.2 446.9,341.2 447.5,336.4 448.1,332.4 448.6,333.1 449.1,337.5 449.7,339.7 450.2,335.2 450.8,333.1 451.4,337.9 451.9,338.6 452.4,335.1 453,334.2 453.6,338.7 454.1,340.8 454.6,341.7 455.2,344.2 455.8,342.3 456.3,338.6 456.9,335.3 457.4,335.3 457.9,338.1 458.5,338.6 459.1,337.4 459.6,339.7 460.1,343.3 460.7,344.2 461.2,344.9 461.8,348.6 462.4,353.1 462.9,353 463.4,353.1 464,356.3 464.6,350.8 465.1,341.9 465.6,343.1 466.2,348.6 466.8,352.9 467.3,355.2 467.9,349.8 468.4,346.4 468.9,344.7 469.5,338.6 470.1,334.3 470.6,334.2 471.1,341.4 471.7,346.4 472.2,347.6 472.8,350.8 473.4,350.6 473.9,346.4 474.5,340.8 475.1,339.7 475.6,338.6 476.2,335.3 476.8,339.1 477.3,347.5 477.9,351.9 478.4,351.9 478.9,351.8 479.5,355.2 480.1,355.5 480.6,353 481.1,351 481.7,350.8 482.2,354.9 482.8,357.4 483.4,358.4 483.9,364 484.4,366.2 485,366.2 485.6,362.1 486.1,361.8 486.6,360.8 487.2,357.4 487.8,358.6 488.3,364 488.9,368.5 489.4,369.5 489.9,366.6 490.5,366.2 491.1,370.5 491.6,372.8 492.1,372.6 492.7,376.2 493.2,369.8 493.8,361.8 494.4,357.4 494.9,355.2 495.5,363.1 496.1,367.6 496.6,368.2 497.2,373.1 497.8,371 498.3,365.4 498.9,363.7 499.4,364.3 499.9,368.8 500.5,368.7 501.1,366.5 501.6,366.5 502.1,370.5 502.7,373.1 503.2,366.4 503.8,362.1 504.4,359.1 504.9,353.2 505.4,355.7 506,359.8 506.6,364.7 507.1,367.6 507.6,369 508.2,373.1 508.8,373.1 509.3,369.8 509.9,370.5 510.4,373.1 510.9,377.2 511.5,378.6 512,380.2 512.6,386.3 513.2,386.5 513.7,381.9 514.2,375.7 514.8,373.1 515.3,373.9 515.9,370.9 516.5,368.1 517,368.7 517.6,368.6 518.2,366.5 518.8,366.8 519.3,368.7 519.8,370.6 520.4,370.9 521,370.9 521.5,375.3 522,378.3 522.6,377.5 523.2,372.4 523.7,372 524.2,375 524.8,376.4 525.3,377.9 525.9,383 526.5,386.2 527,386.3 527.5,382.2 528.1,381.9 528.7,378.8 529.2,373.1 529.8,373.5 530.3,378.6 530.8,382.7 531.4,385.2 532,377 532.5,372 533,369 533.6,362.1 534.2,362.1 534.7,366.5 535.2,373.4 535.8,376.4 536.3,375.6 536.9,378.6 537.5,383.4 538,384.1 538.5,385.7 539.1,391.8 539.7,396.4 540.2,398.4 540.8,397.1 541.3,399.5 541.8,400.1 542.4,396.2 543,393.5 543.5,395.1 544,394.9 544.6,391.8 545.2,387.6 545.7,387.4 546.2,384.6 546.8,377.5 547.3,376.4 547.9,378.6 548.5,383.1 549,384.1 549.5,384.9 550.1,388.5 550.7,388 551.2,384.1 551.8,383.5 552.3,386.3 552.8,386.1 553.4,384.1 554,385.1 554.5,389.6 555,393.6 555.6,392.9 556.2,390.2 556.7,391.8 557.2,395.9 557.8,396.2 558.3,393.2 558.9,392.9 559.5,396.5 560,396.2 560.6,389.6 561.2,386.3 561.8,388.9 562.3,388.5 562.8,388.6 563.4,392.9 564,397.1 564.5,399.5 565,399.2 565.6,402.8 566.2,403 566.7,401.7 567.2,402.8 567.8,407.3 568.3,399.5" fill="none" stroke="#7a0a8c" stroke-width="1.6" stroke-linejoin="round" />
<polyline points="323.5,311.1 324,312.7 324.5,319 325,318.9 325.5,324.5 326,324.5 326.5,328.6 327,325.9 327.5,329.4 328,324.9 328.5,328.5 329,325.1 329.5,328.7 330,325.6 330.5,330.8 331,328.8 331.5,336.3 332,337.8 332.5,344.5 333,341.2 333.5,343.8 334,340.1 334.5,341.3 335,334 335.5,335.2 336,328.9 336.5,329.1 337,322.8 337.5,326.2 338,319.4 338.5,323.2 339,320.3 339.5,324.1 340,318.1 340.5,321.4 341,316.8 341.5,319.8 342,312.4 342.5,314.6 343,310.1 343.5,315.2 344,311.7 344.5,315.8 345,315.1 345.5,319.8 346,318.9 346.5,322.1 347,318.4 347.5,321.8 348,315.7 348.5,319.3 349,311 349.5,316.6 350,310.9 350.5,315.2 351,312.9 351.5,316.9 352,313.7 352.5,319.3 353,316.1 353.5,317.5 354,313 354.5,317.4 355,311.6 355.5,313.1 356,309.1 356.5,313 357,307.4 357.5,313.5 358,310.6 358.5,315.5 359,313.2 359.5,319.6 360,317.6 360.5,324.9 361,323.9 361.5,327.1 362,324.6 362.5,330.4 363,329.5 363.5,332.6 364,328.5 364.5,333.4 365,328.1 365.5,330.4 366,323.6 366.5,325.2 367,320 367.5,321.8 368,315.2 368.5,316.1 369,312.4 369.5,312.6 370,307.9 370.5,311.9 371,306 371.5,312.1 372,309.3 372.5,314.9 373,311.4 373.5,318 374,317.1 374.5,319.9 375,316.7 375.5,318.6 376,315.7 376.5,316.1 377,311.4 377.5,314.5 378,311.7 378.5,315.8 379,314.5 379.5,319.2 380,315.4 380.5,318.6 381,316.8 381.5,322.5 382,319.9 382.5,326.8 383,324.6 383.5,330.3 384,326.9 384.5,331.2 385,325.8 385.5,328.2 386,323 386.5,322.1 387,315.7 387.5,317.8 388,309.6 388.5,313.5 389,308.1 389.5,311.1 390,307.8 390.5,313.4 391,313.6 391.5,319.6 392,319.5 392.5,324.3 393,321.6 393.5,325.2 394,320 394.5,322.7 395,318.5 395.5,324.4 396,320.6 396.5,327 397,328.1 397.5,336.9 398,335.1 398.5,338.4 399,333.3 399.5,334.9 400,327.9 400.5,327.6 401,318.3 401.5,317.2 402,312.4 402.5,314.5 403,311.5 403.5,316.7 404,313.9 404.5,318.4 405,316.7 405.5,320.5 406,316.4 406.5,319.8 407,314.5 407.5,318.9 408,317 408.5,319.8 409,317.5 409.5,320.3 410,317.3 410.5,320.9 411,320.7 411.5,323.5 412,319.6 412.5,324.7 413,321.7 413.5,327.3 414,322.8 414.5,327.2 415,324.4 415.5,328.6 416,323.7 416.5,328.4 417,324.8 417.5,326.8 418,322 418.5,322.3 419,316.9 419.5,318.5 420,312 420.5,316.6 421,312.6 421.5,319.4 422,318.4 422.5,325 423,324.7 423.5,332.7 424,332.7 424.5,337.8 425,334.3 425.5,338.6 426,334.5 426.5,337.1 427,332.4 427.5,337.1 428,333.1 428.5,338.2 429,333.2 429.5,338 430,337.4 430.5,342.4 431,339.2 431.5,345.4 432,345 432.5,348 433,345.8 433.5,347.5 434,342.4 434.5,344 435,338.5 435.5,337.9 436,332.9 436.5,335.9 437,331 437.5,334 438,329.6 438.5,335 439,328.9 439.5,333.6 440,329.7 440.5,332.9 441,331.1 441.5,334.2 442,329.8 442.5,331.7 443,326.3 443.5,331.2 444,329.2 444.5,334.2 445,331.6 445.5,339 446,335.7 446.5,340.3 447,336.6 447.5,339.9 448,335.8 448.5,339.4 449,333.4 449.5,338.6 450,333.3 450.5,339.5 451,334.9 451.5,338.1 452,333.3 452.5,338.5 453,336.8 453.5,340.9 454,336.6 454.5,342.9 455,339.6 455.5,342.1 456,338.6 456.5,340.6 457,335.3 457.5,339.6 458,336.3 458.5,339.6 459,337.5 459.5,343 460,340.6 460.5,344.8 461,344.2 461.5,348.7 462,346.3 462.5,352.2 463,349.2 463.5,352.1 464,347.8 464.5,351.2 465,346.8 465.5,351 466,348 466.5,349.7 467,346.5 467.5,350.9 468,345.7 468.5,347.2 469,340.6 469.5,342.7 470,339.3 470.5,342.5 471,340 471.5,345.8 472,342.6 472.5,348.9 473,345.9 473.5,348.8 474,342.8 474.5,345.9 475,338.5 475.5,342.9 476,339.1 476.5,344.9 477,342.7 477.5,348.2 478,346.3 478.5,353.3 479,350.4 479.5,355.8 480,350 480.5,354.5 481,352.6 481.5,356.2 482,354 482.5,359.7 483,356.6 483.5,362.6 484,359.5 484.5,366 485,362.4 485.5,364.7 486,361.1 486.5,363.6 487,360.6 487.5,365 488,361.5 488.5,365.8 489,362.3 489.5,369.5 490,366.6 490.5,371.4 491,368.3 491.5,372.1 492,369.8 492.5,372.8 493,367.2 493.5,368.5 494,361.7 494.5,365.1 495,361 495.5,366.3 496,362.3 496.5,367.2 497,364.7 497.5,370.4 498,366.4 498.5,368.5 499,366 499.5,369.2 500,363.5 500.5,368.4 501,366.8 501.5,369.5 502,366.7 502.5,368.7 503,364.9 503.5,365.2 504,359.3 504.5,361.2 505,357.7 505.5,361.6 506,359.9 506.5,363.9 507,365 507.5,368.8 508,366.2 508.5,373.4 509,369.1 509.5,375.4 510,371.9 510.5,376 511,374 511.5,381.1 512,377.5 512.5,382.9 513,379.5 513.5,382.9 514,376 514.5,377.8 515,373.3 515.5,373.3 516,368.9 516.5,372.7 517,366.8 517.5,369.4 518,365.8 518.5,370.6 519,367.7 519.5,372.4 520,368.3 520.5,373.8 521,371.7 521.5,375.2 522,372.7 522.5,376.4 523,373.9 523.5,377.7 524,373.7 524.5,380 525,375.1 525.5,382 526,379.3 526.5,384.3 527,381.2 527.5,384.1 528,377.7 528.5,380.5 529,377 529.5,380.1 530,376.1 530.5,381.8 531,376.5 531.5,378.2 532,373.1 532.5,375.1 533,368.2 533.5,371.1 534,366 534.5,370.6 535,367.4 535.5,373 536,373.6 536.5,379.9 537,377 537.5,385.6 538,383.7 538.5,391 539,389.3 539.5,395 540,394.2 540.5,398.9 541,395.7 541.5,400 542,394.2 542.5,397.5 543,393.2 543.5,396.5 544,391.6 544.5,392.1 545,386.1 545.5,389.1 546,382.2 546.5,383.5 547,378.4 547.5,382.5 548,379.2 548.5,384.2 549,381.7 549.5,387.5 550,383.4 550.5,388.2 551,383.4 551.5,388.9 552,384.3 552.5,386.9 553,383 553.5,389.2 554,386.4 554.5,391.8 555,389 555.5,392.4 556,391.4 556.5,395.5 557,391.7 557.5,395 558,392.2 558.5,395.8 559,392 559.5,396 560,390.5 560.5,394.1 561,390 561.5,392.3 562,388.8 562.5,391.4 563,390.1 563.5,395 564,395.4 564.5,399.1 565,398 565.5,403.8 566,400.9 566.5,404 567,400.2 567.5,405.1" fill="none" stroke="#7a0a8c" stroke-width="1.0" stroke-linejoin="round" />
<text x="309.5" y="308.7" font-size="18" fill="#7d1f8c" text-anchor="start" font-weight="normal" >a</text>
<line x1="181.7" y1="451.3" x2="181.7" y2="588.2" stroke="#a0a0a0" stroke-width="1.8"/>
<line x1="181.7" y1="588.2" x2="178.2" y2="588.2" stroke="#a0a0a0" stroke-width="1.2"/>
<line x1="181.7" y1="576.8" x2="176.2" y2="576.8" stroke="#a0a0a0" stroke-width="1.2"/>
<line x1="181.7" y1="565.4" x2="178.2" y2="565.4" stroke="#a0a0a0" stroke-width="1.2"/>
<line x1="181.7" y1="554" x2="178.2" y2="554" stroke="#a0a0a0" stroke-width="1.2"/>
<line x1="181.7" y1="542.6" x2="178.2" y2="542.6" stroke="#a0a0a0" stroke-width="1.2"/>
<line x1="181.7" y1="531.2" x2="178.2" y2="531.2" stroke="#a0a0a0" stroke-width="1.2"/>
<line x1="181.7" y1="519.8" x2="176.2" y2="519.8" stroke="#a0a0a0" stroke-width="1.2"/>
<line x1="181.7" y1="508.3" x2="178.2" y2="508.3" stroke="#a0a0a0" stroke-width="1.2"/>
<line x1="181.7" y1="496.9" x2="178.2" y2="496.9" stroke="#a0a0a0" stroke-width="1.2"/>
<line x1="181.7" y1="485.5" x2="178.2" y2="485.5" stroke="#a0a0a0" stroke-width="1.2"/>
<line x1="181.7" y1="474.1" x2="178.2" y2="474.1" stroke="#a0a0a0" stroke-width="1.2"/>
<line x1="181.7" y1="462.7" x2="176.2" y2="462.7" stroke="#a0a0a0" stroke-width="1.2"/>
<line x1="181.7" y1="451.3" x2="178.2" y2="451.3" stroke="#a0a0a0" stroke-width="1.2"/>
<text x="172" y="582.3" font-size="16" fill="#858585" text-anchor="end" font-weight="normal" >0.0</text>
<text x="172" y="525.2" font-size="16" fill="#858585" text-anchor="end" font-weight="normal" >0.5</text>
<text x="172" y="468.2" font-size="16" fill="#858585" text-anchor="end" font-weight="normal" >1.0</text>
<text x="53" y="479.3" font-size="31" fill="#000" text-anchor="start" font-weight="bold" >C</text>
<text transform="translate(106.4 526.8) rotate(-90)" font-size="22.7" fill="#858585" text-anchor="middle" >Index of EAWM</text>
<text transform="translate(134.5 526.8) rotate(-90)" font-size="22.7" fill="#858585" text-anchor="middle" >(AG/CS)</text>
<line x1="588.8" y1="432.4" x2="588.8" y2="568.9" stroke="#f0a062" stroke-width="1.6"/>
<line x1="588.8" y1="432.4" x2="592.3" y2="432.4" stroke="#f0a062" stroke-width="1.3"/>
<line x1="588.8" y1="446" x2="593.8" y2="446" stroke="#f0a062" stroke-width="1.3"/>
<line x1="588.8" y1="459.6" x2="592.3" y2="459.6" stroke="#f0a062" stroke-width="1.3"/>
<line x1="588.8" y1="473.3" x2="593.8" y2="473.3" stroke="#f0a062" stroke-width="1.3"/>
<line x1="588.8" y1="486.9" x2="592.3" y2="486.9" stroke="#f0a062" stroke-width="1.3"/>
<line x1="588.8" y1="500.6" x2="593.8" y2="500.6" stroke="#f0a062" stroke-width="1.3"/>
<line x1="588.8" y1="514.2" x2="592.3" y2="514.2" stroke="#f0a062" stroke-width="1.3"/>
<line x1="588.8" y1="527.9" x2="593.8" y2="527.9" stroke="#f0a062" stroke-width="1.3"/>
<line x1="588.8" y1="541.5" x2="592.3" y2="541.5" stroke="#f0a062" stroke-width="1.3"/>
<line x1="588.8" y1="555.2" x2="593.8" y2="555.2" stroke="#f0a062" stroke-width="1.3"/>
<line x1="588.8" y1="568.9" x2="592.3" y2="568.9" stroke="#f0a062" stroke-width="1.3"/>
<text x="601.5" y="451.8" font-size="22" fill="#e07a1a" text-anchor="start" font-weight="normal" >4</text>
<text x="601.5" y="479.1" font-size="22" fill="#e07a1a" text-anchor="start" font-weight="normal" >5</text>
<text x="601.5" y="506.4" font-size="22" fill="#e07a1a" text-anchor="start" font-weight="normal" >6</text>
<text x="601.5" y="533.7" font-size="22" fill="#e07a1a" text-anchor="start" font-weight="normal" >7</text>
<text x="601.5" y="561" font-size="22" fill="#e07a1a" text-anchor="start" font-weight="normal" >8</text>
<text transform="translate(666 500.5) rotate(90)" font-size="22.7" fill="#e07a1a" text-anchor="middle" >Index of EAWM</text>
<text transform="translate(639.5 500.5) rotate(90)" font-size="22.7" fill="#e07a1a" text-anchor="middle" >&#916;T (&#176;C)</text>
<polyline points="185.4,539.3 191,534.9 196.5,499.6 198.7,561.4 208.6,544.8 215.2,485.2 226.3,532.7 236.2,508.4 246.1,511.7 257.2,534.9 267.1,518.3 278.1,494.1 289.2,485.2 299.7,528.3 309.5,449.3 320,494.1 331.1,499.6 341,465.4 346.5,474.2 350.9,455 360.9,490.3 370.8,458.1 380.7,493.6 389.9,494.7 401,539.3 409.8,490.3 419.7,510.2 429.6,498 434.7,564.7 439.6,566.2 453.9,522.1 459,558 463.4,547 468.7,542.2 473.8,553.6 478.6,504.4 488.1,551.4 493.6,523.4 499.2,515 503.6,530.5 513.5,540.4 523,483 528.3,553.6 538.4,540.4 542.8,527.8 547.3,529.4 549.9,491.2" fill="none" stroke="#e8801e" stroke-width="1.4" stroke-linejoin="round" />
<polyline points="185.4,462.7 193.8,485.9 202,491.4 208.8,490.8 216.8,521.6 225.2,490.8 232.2,532.7 240.6,522.3 250.5,531.1 259.4,532.7 266,462.7 274.1,462.7 281.4,462.7 285.8,462.7 291.4,462.7 299.1,462.7 309,500.7 316.7,559.2 323.8,500 332.2,505.1 340.6,526.7 348.7,508.4 357.6,481.9 367,485.2 377.4,464.9 387.5,464.9 395,487 403.2,480.8 415.7,566.2 423.5,555.8 432.5,571.7 439.1,569.7 446.2,572.8 452.8,572 457.2,573 461.6,569.7 467.2,570.8 472.7,571.7 476.6,559.8 479.7,568.4 483.3,566.9 486.4,549.7 489.2,559.8 492.5,570.2 495.8,572.4 499.2,572.8 502.9,571.7 505.8,563.6 509.1,562.5 512,571.3 513.5,564.7 515.7,554.7 517.9,569.7 521.2,567.5 524.5,561.4 527.4,559.2 530.7,563.6 533.4,552.5 540,549.7 543.7,530 545.9,533.8 548.1,543.3 551,519.9 554.3,552.5 557,553.6 558.3,540.4 559.8,559.8 560.9,541.5 563.1,543.7" fill="none" stroke="#6e6e6e" stroke-width="1.1" stroke-linejoin="round" />
<rect x="182.4" y="459.7" width="6" height="6" fill="#7c7c7c"/>
<rect x="190.8" y="482.9" width="6" height="6" fill="#7c7c7c"/>
<rect x="199" y="488.4" width="6" height="6" fill="#7c7c7c"/>
<rect x="205.8" y="487.8" width="6" height="6" fill="#7c7c7c"/>
<rect x="213.8" y="518.6" width="6" height="6" fill="#7c7c7c"/>
<rect x="222.2" y="487.8" width="6" height="6" fill="#7c7c7c"/>
<rect x="229.2" y="529.7" width="6" height="6" fill="#7c7c7c"/>
<rect x="237.6" y="519.3" width="6" height="6" fill="#7c7c7c"/>
<rect x="247.5" y="528.1" width="6" height="6" fill="#7c7c7c"/>
<rect x="256.4" y="529.7" width="6" height="6" fill="#7c7c7c"/>
<rect x="263" y="459.7" width="6" height="6" fill="#7c7c7c"/>
<rect x="271.1" y="459.7" width="6" height="6" fill="#7c7c7c"/>
<rect x="278.4" y="459.7" width="6" height="6" fill="#7c7c7c"/>
<rect x="282.8" y="459.7" width="6" height="6" fill="#7c7c7c"/>
<rect x="288.4" y="459.7" width="6" height="6" fill="#7c7c7c"/>
<rect x="296.1" y="459.7" width="6" height="6" fill="#7c7c7c"/>
<rect x="306" y="497.7" width="6" height="6" fill="#7c7c7c"/>
<rect x="313.7" y="556.2" width="6" height="6" fill="#7c7c7c"/>
<rect x="320.8" y="497" width="6" height="6" fill="#7c7c7c"/>
<rect x="329.2" y="502.1" width="6" height="6" fill="#7c7c7c"/>
<rect x="337.6" y="523.7" width="6" height="6" fill="#7c7c7c"/>
<rect x="345.7" y="505.4" width="6" height="6" fill="#7c7c7c"/>
<rect x="354.6" y="478.9" width="6" height="6" fill="#7c7c7c"/>
<rect x="364" y="482.2" width="6" height="6" fill="#7c7c7c"/>
<rect x="374.4" y="461.9" width="6" height="6" fill="#7c7c7c"/>
<rect x="384.5" y="461.9" width="6" height="6" fill="#7c7c7c"/>
<rect x="392" y="484" width="6" height="6" fill="#7c7c7c"/>
<rect x="400.2" y="477.8" width="6" height="6" fill="#7c7c7c"/>
<rect x="412.7" y="563.2" width="6" height="6" fill="#7c7c7c"/>
<rect x="420.5" y="552.8" width="6" height="6" fill="#7c7c7c"/>
<rect x="429.5" y="568.7" width="6" height="6" fill="#7c7c7c"/>
<rect x="436.1" y="566.7" width="6" height="6" fill="#7c7c7c"/>
<rect x="443.2" y="569.8" width="6" height="6" fill="#7c7c7c"/>
<rect x="449.8" y="569" width="6" height="6" fill="#7c7c7c"/>
<rect x="454.2" y="570" width="6" height="6" fill="#7c7c7c"/>
<rect x="458.6" y="566.7" width="6" height="6" fill="#7c7c7c"/>
<rect x="464.2" y="567.8" width="6" height="6" fill="#7c7c7c"/>
<rect x="469.7" y="568.7" width="6" height="6" fill="#7c7c7c"/>
<rect x="473.6" y="556.8" width="6" height="6" fill="#7c7c7c"/>
<rect x="476.7" y="565.4" width="6" height="6" fill="#7c7c7c"/>
<rect x="480.3" y="563.9" width="6" height="6" fill="#7c7c7c"/>
<rect x="483.4" y="546.7" width="6" height="6" fill="#7c7c7c"/>
<rect x="486.2" y="556.8" width="6" height="6" fill="#7c7c7c"/>
<rect x="489.5" y="567.2" width="6" height="6" fill="#7c7c7c"/>
<rect x="492.8" y="569.4" width="6" height="6" fill="#7c7c7c"/>
<rect x="496.2" y="569.8" width="6" height="6" fill="#7c7c7c"/>
<rect x="499.9" y="568.7" width="6" height="6" fill="#7c7c7c"/>
<rect x="502.8" y="560.6" width="6" height="6" fill="#7c7c7c"/>
<rect x="506.1" y="559.5" width="6" height="6" fill="#7c7c7c"/>
<rect x="509" y="568.3" width="6" height="6" fill="#7c7c7c"/>
<rect x="510.5" y="561.7" width="6" height="6" fill="#7c7c7c"/>
<rect x="512.7" y="551.7" width="6" height="6" fill="#7c7c7c"/>
<rect x="514.9" y="566.7" width="6" height="6" fill="#7c7c7c"/>
<rect x="518.2" y="564.5" width="6" height="6" fill="#7c7c7c"/>
<rect x="521.5" y="558.4" width="6" height="6" fill="#7c7c7c"/>
<rect x="524.4" y="556.2" width="6" height="6" fill="#7c7c7c"/>
<rect x="527.7" y="560.6" width="6" height="6" fill="#7c7c7c"/>
<rect x="530.4" y="549.5" width="6" height="6" fill="#7c7c7c"/>
<rect x="537" y="546.7" width="6" height="6" fill="#7c7c7c"/>
<rect x="540.7" y="527" width="6" height="6" fill="#7c7c7c"/>
<rect x="542.9" y="530.8" width="6" height="6" fill="#7c7c7c"/>
<rect x="545.1" y="540.3" width="6" height="6" fill="#7c7c7c"/>
<rect x="548" y="516.9" width="6" height="6" fill="#7c7c7c"/>
<rect x="551.3" y="549.5" width="6" height="6" fill="#7c7c7c"/>
<rect x="554" y="550.6" width="6" height="6" fill="#7c7c7c"/>
<rect x="555.3" y="537.4" width="6" height="6" fill="#7c7c7c"/>
<rect x="556.8" y="556.8" width="6" height="6" fill="#7c7c7c"/>
<rect x="557.9" y="538.5" width="6" height="6" fill="#7c7c7c"/>
<rect x="560.1" y="540.7" width="6" height="6" fill="#7c7c7c"/>
<rect x="791" y="107" width="470.20000000000005" height="380" fill="none" stroke="#111" stroke-width="2"/>
<line x1="791.3" y1="487" x2="791.3" y2="490.7" stroke="#111" stroke-width="1.6"/>
<line x1="791.3" y1="107" x2="791.3" y2="110.7" stroke="#111" stroke-width="1.6"/>
<line x1="830.5" y1="487" x2="830.5" y2="494.5" stroke="#111" stroke-width="1.6"/>
<line x1="830.5" y1="107" x2="830.5" y2="114.5" stroke="#111" stroke-width="1.6"/>
<line x1="869.6" y1="487" x2="869.6" y2="490.7" stroke="#111" stroke-width="1.6"/>
<line x1="869.6" y1="107" x2="869.6" y2="110.7" stroke="#111" stroke-width="1.6"/>
<line x1="908.8" y1="487" x2="908.8" y2="494.5" stroke="#111" stroke-width="1.6"/>
<line x1="908.8" y1="107" x2="908.8" y2="114.5" stroke="#111" stroke-width="1.6"/>
<line x1="948" y1="487" x2="948" y2="490.7" stroke="#111" stroke-width="1.6"/>
<line x1="948" y1="107" x2="948" y2="110.7" stroke="#111" stroke-width="1.6"/>
<line x1="987.1" y1="487" x2="987.1" y2="494.5" stroke="#111" stroke-width="1.6"/>
<line x1="987.1" y1="107" x2="987.1" y2="114.5" stroke="#111" stroke-width="1.6"/>
<line x1="1026.3" y1="487" x2="1026.3" y2="490.7" stroke="#111" stroke-width="1.6"/>
<line x1="1026.3" y1="107" x2="1026.3" y2="110.7" stroke="#111" stroke-width="1.6"/>
<line x1="1065.5" y1="487" x2="1065.5" y2="494.5" stroke="#111" stroke-width="1.6"/>
<line x1="1065.5" y1="107" x2="1065.5" y2="114.5" stroke="#111" stroke-width="1.6"/>
<line x1="1104.7" y1="487" x2="1104.7" y2="490.7" stroke="#111" stroke-width="1.6"/>
<line x1="1104.7" y1="107" x2="1104.7" y2="110.7" stroke="#111" stroke-width="1.6"/>
<line x1="1143.8" y1="487" x2="1143.8" y2="494.5" stroke="#111" stroke-width="1.6"/>
<line x1="1143.8" y1="107" x2="1143.8" y2="114.5" stroke="#111" stroke-width="1.6"/>
<line x1="1183" y1="487" x2="1183" y2="490.7" stroke="#111" stroke-width="1.6"/>
<line x1="1183" y1="107" x2="1183" y2="110.7" stroke="#111" stroke-width="1.6"/>
<line x1="1222.2" y1="487" x2="1222.2" y2="494.5" stroke="#111" stroke-width="1.6"/>
<line x1="1222.2" y1="107" x2="1222.2" y2="114.5" stroke="#111" stroke-width="1.6"/>
<line x1="1261.4" y1="487" x2="1261.4" y2="490.7" stroke="#111" stroke-width="1.6"/>
<line x1="1261.4" y1="107" x2="1261.4" y2="110.7" stroke="#111" stroke-width="1.6"/>
<text x="830.5" y="517.3" font-size="23" fill="#000" text-anchor="middle" font-weight="normal" >350</text>
<text x="908.8" y="517.3" font-size="23" fill="#000" text-anchor="middle" font-weight="normal" >400</text>
<text x="987.1" y="517.3" font-size="23" fill="#000" text-anchor="middle" font-weight="normal" >450</text>
<text x="1065.5" y="517.3" font-size="23" fill="#000" text-anchor="middle" font-weight="normal" >500</text>
<text x="1143.8" y="517.3" font-size="23" fill="#000" text-anchor="middle" font-weight="normal" >550</text>
<text x="1222.2" y="517.3" font-size="23" fill="#000" text-anchor="middle" font-weight="normal" >600</text>
<line x1="791" y1="486.1" x2="787.3" y2="486.1" stroke="#111" stroke-width="1.6"/>
<line x1="1261.2" y1="486.1" x2="1257.5" y2="486.1" stroke="#111" stroke-width="1.6"/>
<line x1="791" y1="454.5" x2="783.5" y2="454.5" stroke="#111" stroke-width="1.6"/>
<line x1="1261.2" y1="454.5" x2="1253.7" y2="454.5" stroke="#111" stroke-width="1.6"/>
<line x1="791" y1="422.9" x2="787.3" y2="422.9" stroke="#111" stroke-width="1.6"/>
<line x1="1261.2" y1="422.9" x2="1257.5" y2="422.9" stroke="#111" stroke-width="1.6"/>
<line x1="791" y1="391.4" x2="783.5" y2="391.4" stroke="#111" stroke-width="1.6"/>
<line x1="1261.2" y1="391.4" x2="1253.7" y2="391.4" stroke="#111" stroke-width="1.6"/>
<line x1="791" y1="359.8" x2="787.3" y2="359.8" stroke="#111" stroke-width="1.6"/>
<line x1="1261.2" y1="359.8" x2="1257.5" y2="359.8" stroke="#111" stroke-width="1.6"/>
<line x1="791" y1="328.2" x2="783.5" y2="328.2" stroke="#111" stroke-width="1.6"/>
<line x1="1261.2" y1="328.2" x2="1253.7" y2="328.2" stroke="#111" stroke-width="1.6"/>
<line x1="791" y1="296.6" x2="787.3" y2="296.6" stroke="#111" stroke-width="1.6"/>
<line x1="1261.2" y1="296.6" x2="1257.5" y2="296.6" stroke="#111" stroke-width="1.6"/>
<line x1="791" y1="265.1" x2="783.5" y2="265.1" stroke="#111" stroke-width="1.6"/>
<line x1="1261.2" y1="265.1" x2="1253.7" y2="265.1" stroke="#111" stroke-width="1.6"/>
<line x1="791" y1="233.5" x2="787.3" y2="233.5" stroke="#111" stroke-width="1.6"/>
<line x1="1261.2" y1="233.5" x2="1257.5" y2="233.5" stroke="#111" stroke-width="1.6"/>
<line x1="791" y1="201.9" x2="783.5" y2="201.9" stroke="#111" stroke-width="1.6"/>
<line x1="1261.2" y1="201.9" x2="1253.7" y2="201.9" stroke="#111" stroke-width="1.6"/>
<line x1="791" y1="170.4" x2="787.3" y2="170.4" stroke="#111" stroke-width="1.6"/>
<line x1="1261.2" y1="170.4" x2="1257.5" y2="170.4" stroke="#111" stroke-width="1.6"/>
<line x1="791" y1="138.8" x2="783.5" y2="138.8" stroke="#111" stroke-width="1.6"/>
<line x1="1261.2" y1="138.8" x2="1253.7" y2="138.8" stroke="#111" stroke-width="1.6"/>
<line x1="791" y1="107.2" x2="787.3" y2="107.2" stroke="#111" stroke-width="1.6"/>
<line x1="1261.2" y1="107.2" x2="1257.5" y2="107.2" stroke="#111" stroke-width="1.6"/>
<text x="778.6" y="462.3" font-size="23" fill="#000" text-anchor="end" font-weight="normal" >0</text>
<text x="778.6" y="399.2" font-size="23" fill="#000" text-anchor="end" font-weight="normal" >20</text>
<text x="778.6" y="336" font-size="23" fill="#000" text-anchor="end" font-weight="normal" >40</text>
<text x="778.6" y="272.9" font-size="23" fill="#000" text-anchor="end" font-weight="normal" >60</text>
<text x="778.6" y="209.7" font-size="23" fill="#000" text-anchor="end" font-weight="normal" >80</text>
<text x="778.6" y="146.6" font-size="23" fill="#000" text-anchor="end" font-weight="normal" >100</text>
<text x="832" y="155" font-size="31" fill="#000" text-anchor="start" font-weight="bold" >D</text>
<text transform="translate(734 297) rotate(-90)" font-size="23" fill="#000" text-anchor="middle" >Stabilized dunes (%)</text>
<text x="1026.5" y="555" font-size="23" fill="#000" text-anchor="middle" font-weight="normal" >Precipitation (mm)</text>
<line x1="969.2" y1="386.2" x2="969.2" y2="455.1" stroke="#888" stroke-width="1.2"/>
<line x1="965.4" y1="386.2" x2="973" y2="386.2" stroke="#888" stroke-width="1.2"/>
<line x1="1074.7" y1="363.3" x2="1074.7" y2="431.2" stroke="#333" stroke-width="1.2"/>
<line x1="1070.9" y1="363.3" x2="1078.5" y2="363.3" stroke="#333" stroke-width="1.2"/>
<line x1="1070.9" y1="431.2" x2="1078.5" y2="431.2" stroke="#333" stroke-width="1.2"/>
<line x1="1108.9" y1="288.3" x2="1108.9" y2="349.2" stroke="#777" stroke-width="1.2"/>
<line x1="1105.1" y1="288.3" x2="1112.7" y2="288.3" stroke="#777" stroke-width="1.2"/>
<line x1="1105.1" y1="349.2" x2="1112.7" y2="349.2" stroke="#777" stroke-width="1.2"/>
<line x1="1110.1" y1="221.9" x2="1110.1" y2="265.5" stroke="#333" stroke-width="1.2"/>
<line x1="1106.3" y1="221.9" x2="1113.9" y2="221.9" stroke="#333" stroke-width="1.2"/>
<line x1="1106.3" y1="265.5" x2="1113.9" y2="265.5" stroke="#333" stroke-width="1.2"/>
<line x1="1160.8" y1="183.8" x2="1160.8" y2="211.9" stroke="#444" stroke-width="1.2"/>
<line x1="1157" y1="183.8" x2="1164.6" y2="183.8" stroke="#444" stroke-width="1.2"/>
<line x1="1157" y1="211.9" x2="1164.6" y2="211.9" stroke="#444" stroke-width="1.2"/>
<line x1="1193.4" y1="145.7" x2="1193.4" y2="161.1" stroke="#333" stroke-width="1.2"/>
<line x1="1189.6" y1="145.7" x2="1197.2" y2="145.7" stroke="#333" stroke-width="1.2"/>
<line x1="1189.6" y1="161.1" x2="1197.2" y2="161.1" stroke="#333" stroke-width="1.2"/>
<line x1="1186.8" y1="138.6" x2="1186.8" y2="155.6" stroke="#555" stroke-width="1.2"/>
<line x1="1183" y1="155.6" x2="1190.6" y2="155.6" stroke="#555" stroke-width="1.2"/>
<line x1="1177.4" y1="146.5" x2="1177.4" y2="166.1" stroke="#333" stroke-width="1.2"/>
<line x1="1173.6" y1="146.5" x2="1181.2" y2="146.5" stroke="#333" stroke-width="1.2"/>
<line x1="1173.6" y1="166.1" x2="1181.2" y2="166.1" stroke="#333" stroke-width="1.2"/>
<line x1="1130.2" y1="165.1" x2="1130.2" y2="190.4" stroke="#444" stroke-width="1.2"/>
<line x1="1126.4" y1="165.1" x2="1134" y2="165.1" stroke="#444" stroke-width="1.2"/>
<line x1="1126.4" y1="190.4" x2="1134" y2="190.4" stroke="#444" stroke-width="1.2"/>
<line x1="1117.3" y1="160.6" x2="1117.3" y2="185.4" stroke="#444" stroke-width="1.2"/>
<line x1="1113.5" y1="160.6" x2="1121.1" y2="160.6" stroke="#444" stroke-width="1.2"/>
<line x1="1113.5" y1="185.4" x2="1121.1" y2="185.4" stroke="#444" stroke-width="1.2"/>
<line x1="1124.7" y1="180.5" x2="1124.7" y2="210.3" stroke="#888" stroke-width="1.2"/>
<line x1="1120.9" y1="180.5" x2="1128.5" y2="180.5" stroke="#888" stroke-width="1.2"/>
<line x1="1120.9" y1="210.3" x2="1128.5" y2="210.3" stroke="#888" stroke-width="1.2"/>
<line x1="1133.3" y1="191.2" x2="1133.3" y2="217.7" stroke="#444" stroke-width="1.2"/>
<line x1="1129.5" y1="191.2" x2="1137.1" y2="191.2" stroke="#444" stroke-width="1.2"/>
<line x1="1129.5" y1="217.7" x2="1137.1" y2="217.7" stroke="#444" stroke-width="1.2"/>
<line x1="1095.7" y1="200.3" x2="1095.7" y2="232.6" stroke="#777" stroke-width="1.2"/>
<line x1="1091.9" y1="200.3" x2="1099.5" y2="200.3" stroke="#777" stroke-width="1.2"/>
<line x1="1091.9" y1="232.6" x2="1099.5" y2="232.6" stroke="#777" stroke-width="1.2"/>
<line x1="1073.5" y1="227.8" x2="1073.5" y2="261.3" stroke="#444" stroke-width="1.2"/>
<line x1="1069.7" y1="227.8" x2="1077.3" y2="227.8" stroke="#444" stroke-width="1.2"/>
<line x1="1069.7" y1="261.3" x2="1077.3" y2="261.3" stroke="#444" stroke-width="1.2"/>
<line x1="1037.7" y1="257.7" x2="1037.7" y2="291.3" stroke="#444" stroke-width="1.2"/>
<line x1="1033.9" y1="257.7" x2="1041.5" y2="257.7" stroke="#444" stroke-width="1.2"/>
<line x1="1033.9" y1="291.3" x2="1041.5" y2="291.3" stroke="#444" stroke-width="1.2"/>
<line x1="992.9" y1="309.4" x2="992.9" y2="328.1" stroke="#333" stroke-width="1.2"/>
<line x1="989.1" y1="309.4" x2="996.7" y2="309.4" stroke="#333" stroke-width="1.2"/>
<line x1="989.1" y1="328.1" x2="996.7" y2="328.1" stroke="#333" stroke-width="1.2"/>
<line x1="942.5" y1="317.4" x2="942.5" y2="334" stroke="#333" stroke-width="1.2"/>
<line x1="938.7" y1="317.4" x2="946.3" y2="317.4" stroke="#333" stroke-width="1.2"/>
<line x1="938.7" y1="334" x2="946.3" y2="334" stroke="#333" stroke-width="1.2"/>
<polyline points="969.2,455.1 1074.7,393.7 1108.9,310.5 1110.1,238.4 1160.8,200.3 1193.4,154.5 1186.8,138.6 1177.4,155.6 1130.2,179.3 1117.3,170 1124.7,189.9 1133.3,207.8 1095.7,208.6 1073.5,247 1037.7,276.7 992.9,320.6 942.5,329.7 869.1,359.1" fill="none" stroke="#111" stroke-width="1.1" stroke-linejoin="round" />
<circle cx="969.2" cy="455.1" r="4.7" fill="#000"/>
<circle cx="1074.7" cy="393.7" r="4.7" fill="#000"/>
<circle cx="1108.9" cy="310.5" r="4.7" fill="#000"/>
<circle cx="1110.1" cy="238.4" r="4.7" fill="#000"/>
<circle cx="1160.8" cy="200.3" r="4.7" fill="#000"/>
<circle cx="1193.4" cy="154.5" r="4.7" fill="#000"/>
<circle cx="1186.8" cy="138.6" r="4.7" fill="#000"/>
<circle cx="1177.4" cy="155.6" r="4.7" fill="#000"/>
<circle cx="1130.2" cy="179.3" r="4.7" fill="#000"/>
<circle cx="1117.3" cy="170" r="4.7" fill="#000"/>
<circle cx="1124.7" cy="189.9" r="4.7" fill="#000"/>
<circle cx="1133.3" cy="207.8" r="4.7" fill="#000"/>
<circle cx="1095.7" cy="208.6" r="4.7" fill="#000"/>
<circle cx="1073.5" cy="247" r="4.7" fill="#000"/>
<circle cx="1037.7" cy="276.7" r="4.7" fill="#000"/>
<circle cx="992.9" cy="320.6" r="4.7" fill="#000"/>
<circle cx="942.5" cy="329.7" r="4.7" fill="#000"/>
<circle cx="869.1" cy="359.1" r="4.7" fill="#000"/>
<text x="960" y="464.1" font-size="21.5" fill="#000" text-anchor="end" font-weight="normal" >12 ka</text>
<text x="1115.8" y="318.3" font-size="21.5" fill="#000" text-anchor="start" font-weight="normal" >10 ka</text>
<text x="1048.6" y="287.8" font-size="21.5" fill="#000" text-anchor="start" font-weight="normal" >2 ka</text>
<text x="1196.7" y="141.2" font-size="21.5" fill="#000" text-anchor="start" font-weight="normal" >6 ka</text>
<line x1="1037.3" y1="243.2" x2="1014.4" y2="269.1" stroke="#b01c1c" stroke-width="2.2"/>
<path d="M1007.8,276.6 L1011.3,265 L1018.8,271.7 Z" fill="#b01c1c"/>
<line x1="1106.8" y1="372.7" x2="1123.5" y2="340" stroke="#1a9a4a" stroke-width="2.2"/>
<path d="M1128.3,330.6 L1127.5,343.1 L1118.6,338.6 Z" fill="#1a9a4a"/>
</svg></body></html>
